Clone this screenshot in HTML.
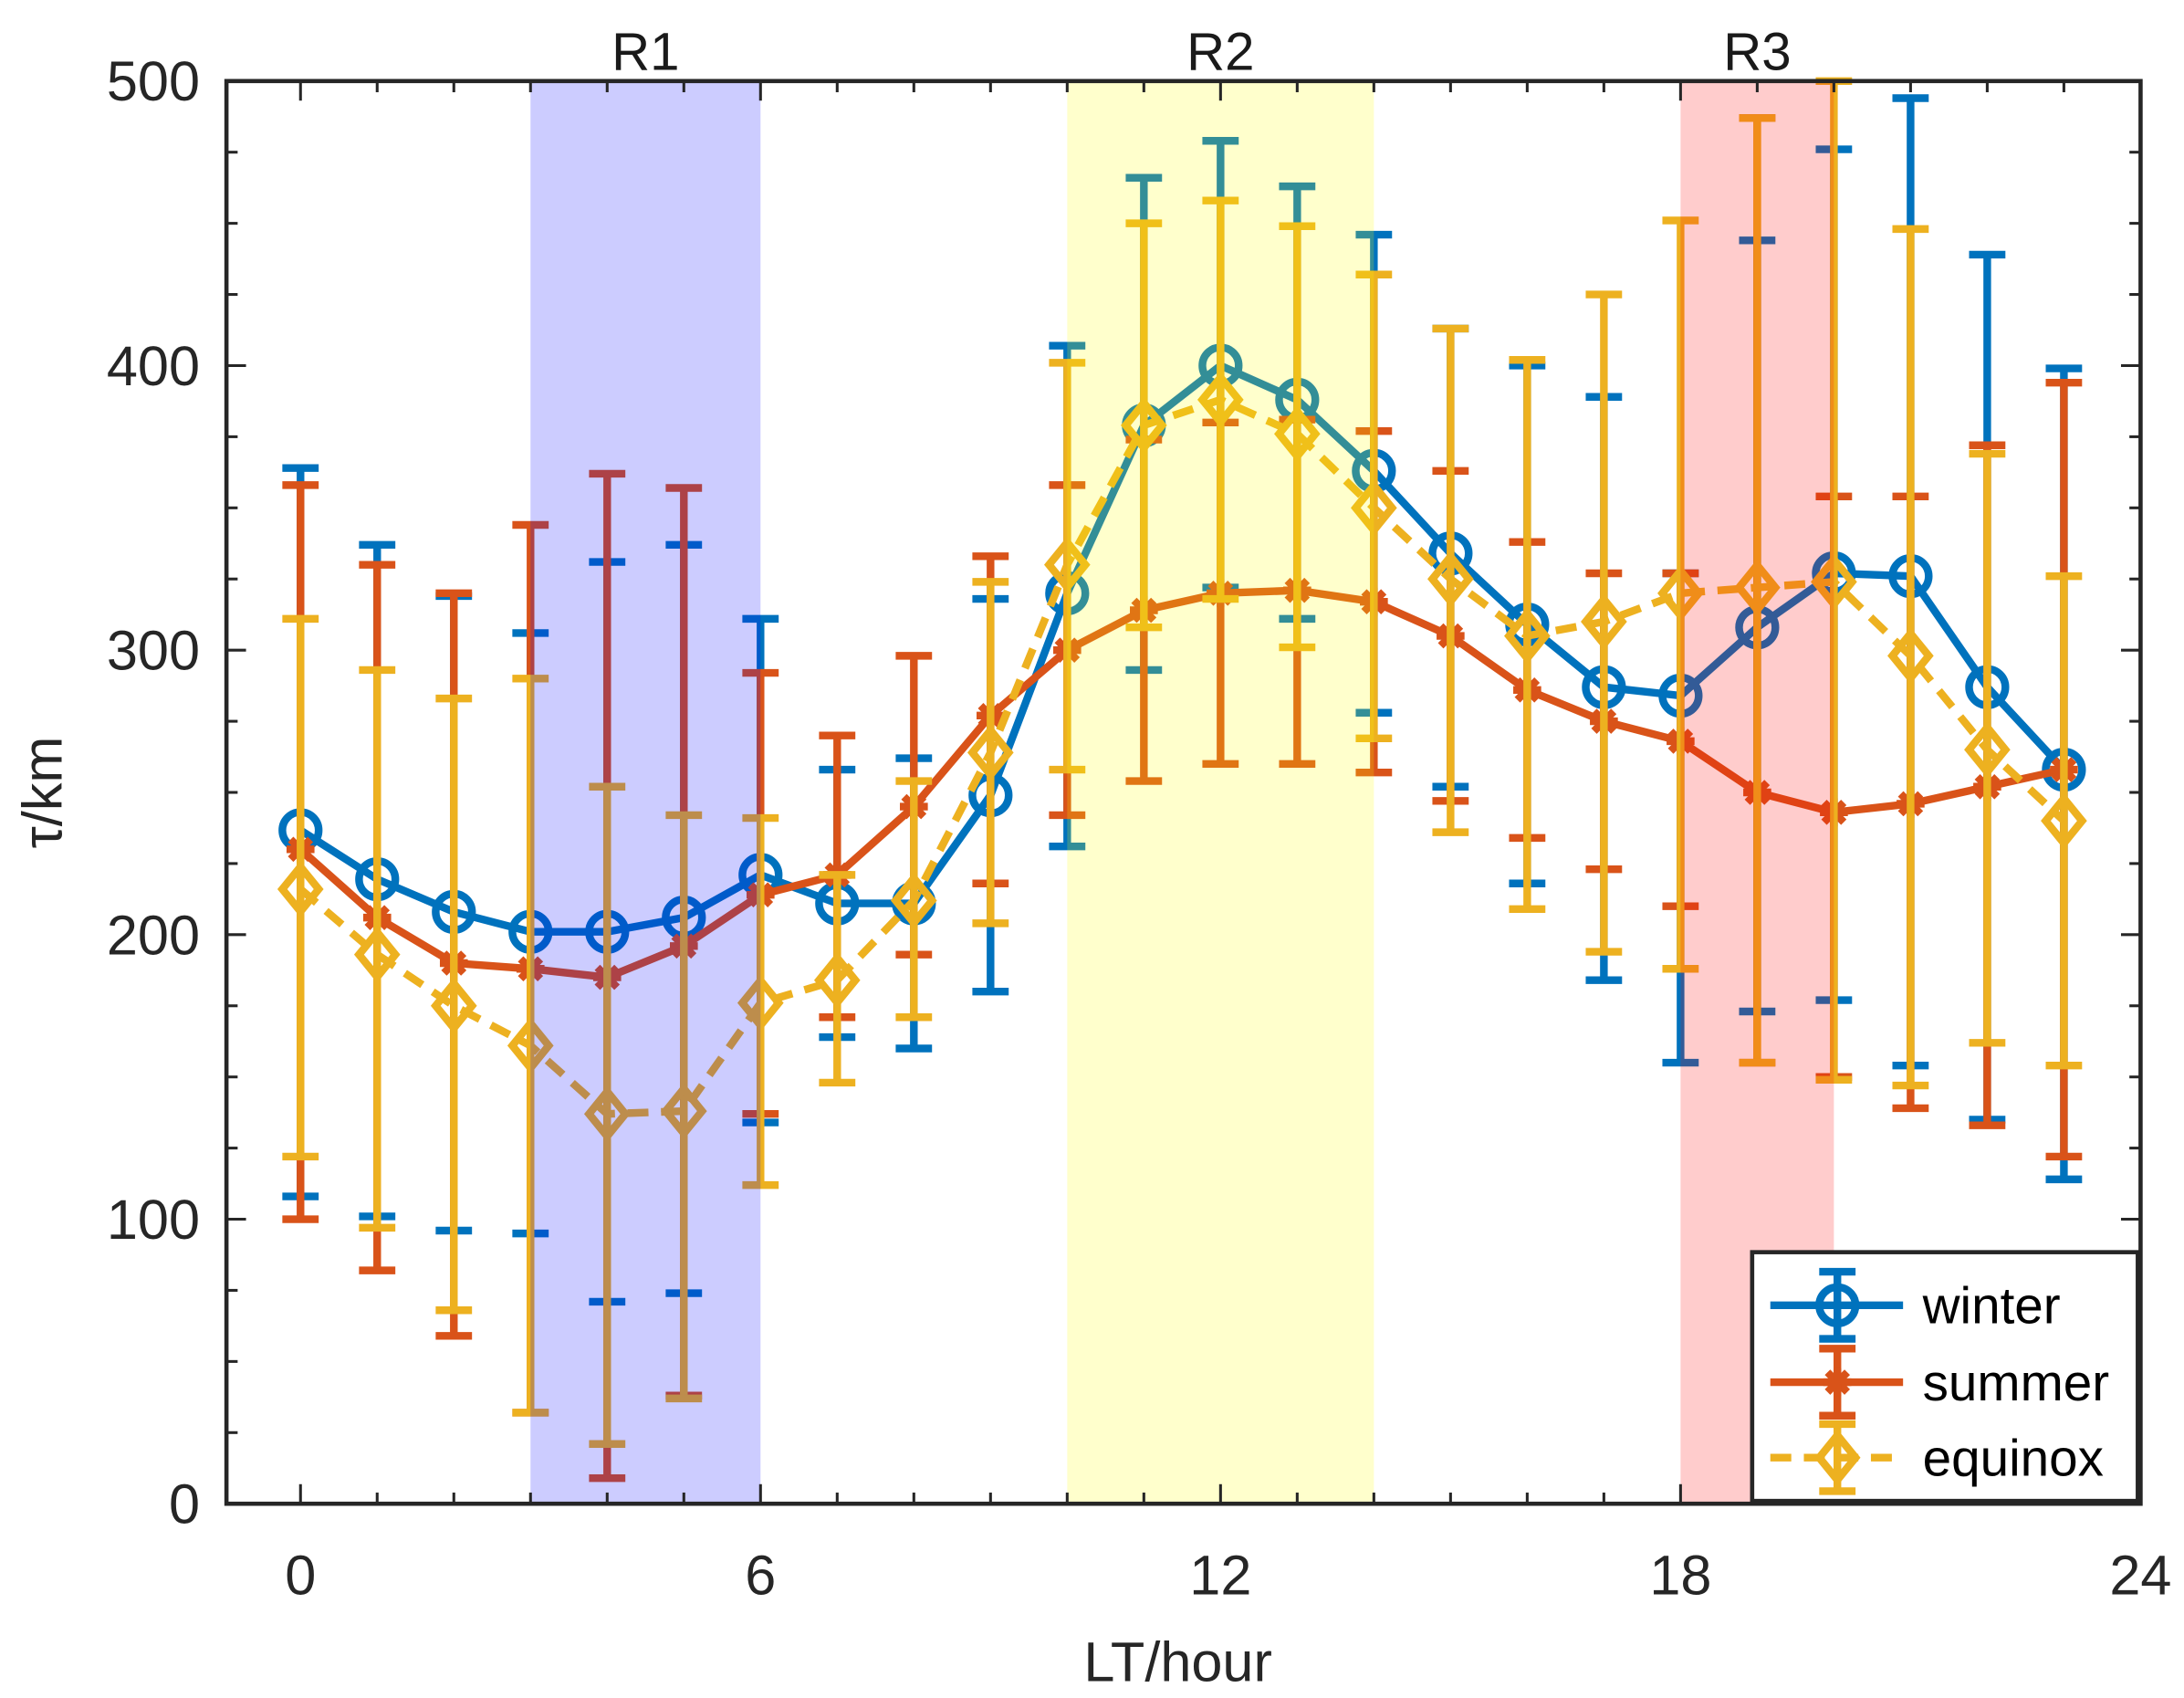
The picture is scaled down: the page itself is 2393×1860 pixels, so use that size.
<!DOCTYPE html>
<html><head><meta charset="utf-8"><style>html,body{margin:0;padding:0;background:#fff}svg{display:block}</style></head>
<body>
<svg id="s" width="2393" height="1860" viewBox="0 0 1563 1215" xmlns="http://www.w3.org/2000/svg" font-family="Liberation Sans, Arial, sans-serif"></svg>
<script>
(function(){
const X=h=>215+h*54.875, Y=v=>1076-v*2.036;
const W='#0072BD',S='#D95319',E='#EDB120',LW=5.5;
const win=[236.7,219.5,208,201,201,206,221,211,211,249,320,379,400,388,363,334,309,287,284,308,327,326,287,258];
const winT=[364,337,319,306,331,337,311,258,262,318,407,466,479,463,446,413,400,389,327,444,476,494,439,399];
const winB=[108,101,96,95,71,74,134,164,160,180,231,293,322,311,278,252,218,184,155,173,177,154,135,114];
const sum=[230,206,190,188,185,196,214,221,245,277,300,314,320,321,317,305,286,275,268,250,243,246,252,258];
const sumT=[358,330,320,344,362,357,292,270,298,333,358,374,380,381,377,363,338,327,327,487,354,354,372,394];
const sumB=[100,82,59,32,9,38,137,171,193,218,242,254,260,260,257,247,234,223,210,155,150,139,133,122];
const eq=[216,193,175,161,137,138,176,184,212,264,330,379,388,376,350,325,305,310,320,322,324,298,265,240];
const eqT=[311,293,283,290,252,242,241,221,254,324,401,450,458,449,432,413,402,425,451,487,500,448,369,326];
const eqB=[122,97,68,32,21,37,112,148,171,204,258,308,318,301,269,236,209,194,188,155,149,147,162,154];
let o='<rect x="162" y="58" width="1370" height="1018" fill="#fff"/>';
function bars(T,B,c){let r='';for(let i=0;i<24;i++){const x=X(i);r+=`<line x1="${x}" y1="${Y(T[i])}" x2="${x}" y2="${Y(B[i])}" stroke="${c}" stroke-width="${LW}"/><line x1="${x-13}" y1="${Y(T[i])}" x2="${x+13}" y2="${Y(T[i])}" stroke="${c}" stroke-width="${LW}"/><line x1="${x-13}" y1="${Y(B[i])}" x2="${x+13}" y2="${Y(B[i])}" stroke="${c}" stroke-width="${LW}"/>`;}return r;}
function line(v,c,d){return `<polyline fill="none" stroke="${c}" stroke-width="${LW}" ${d?'stroke-dasharray="15 9"':''} points="${v.map((a,i)=>X(i)+','+Y(a)).join(' ')}"/>`;}
function circ(x,y){return `<circle cx="${x}" cy="${y}" r="13" fill="none" stroke="${W}" stroke-width="${LW}"/>`}
function star(x,y){let r='';for(const a of [0,45,90,135]){const t=a*Math.PI/180,dx=10*Math.cos(t),dy=10*Math.sin(t);r+=`<line x1="${x-dx}" y1="${y-dy}" x2="${x+dx}" y2="${y+dy}" stroke="${S}" stroke-width="${LW}"/>`;}return r;}
function dia(x,y){return `<polygon points="${x},${y-16} ${x+13},${y} ${x},${y+16} ${x-13},${y}" fill="none" stroke="${E}" stroke-width="${LW}"/>`}
o+=bars(winT,winB,W)+line(win,W);for(let i=0;i<24;i++)o+=circ(X(i),Y(win[i]));
o+=bars(sumT,sumB,S)+line(sum,S);for(let i=0;i<24;i++)o+=star(X(i),Y(sum[i]));
o+=bars(eqT,eqB,E)+line(eq,E,1);for(let i=0;i<24;i++)o+=dia(X(i),Y(eq[i]));
o+=`<rect x="${X(3)}" y="58" width="${X(6)-X(3)}" height="1018" fill="#0000ff" fill-opacity="0.2"/>`;
o+=`<rect x="${X(10)}" y="58" width="${X(14)-X(10)}" height="1018" fill="#ffff00" fill-opacity="0.2"/>`;
o+=`<rect x="${X(18)}" y="58" width="${X(20)-X(18)}" height="1018" fill="#ff0000" fill-opacity="0.2"/>`;
o+='<g font-size="38" text-anchor="middle" fill="#1a1a1a"><text x="'+X(4.5)+'" y="50">R1</text><text x="'+X(12)+'" y="50">R2</text><text x="'+X(19)+'" y="50">R3</text></g>';
let tk='';
for(let h=0;h<=24;h++){const x=X(h);const L=h%6==0?14:8;tk+=`<line x1="${x}" y1="1076" x2="${x}" y2="${1076-L}"/><line x1="${x}" y1="58" x2="${x}" y2="${58+L}"/>`;}
for(let v=0;v<=500;v+=25){const y=Y(v);const L=v%100==0?14:8;tk+=`<line x1="162" y1="${y}" x2="${162+L}" y2="${y}"/><line x1="1532" y1="${y}" x2="${1532-L}" y2="${y}"/>`;}
o+=`<g stroke="#262626" stroke-width="2">${tk}</g>`;
o+='<rect x="162" y="58" width="1370" height="1018" fill="none" stroke="#262626" stroke-width="3"/>';
o+='<g font-size="40" fill="#262626" text-anchor="middle">';
for(const h of [0,6,12,18,24])o+=`<text x="${X(h)}" y="1141">${h}</text>`;
o+='</g><g font-size="40" fill="#262626" text-anchor="end">';
for(let v=0;v<=500;v+=100)o+=`<text x="143" y="${Y(v)+14}">${v}</text>`;
o+='</g>';
o+='<text x="843" y="1203" font-size="40" fill="#262626" text-anchor="middle">LT/hour</text>';
o+='<text transform="translate(44,567) rotate(-90)" font-size="40" fill="#262626" text-anchor="middle">τ/km</text>';
o+='<rect x="1254" y="896" width="276" height="178" fill="#fff" stroke="#262626" stroke-width="3"/>';
const ly=[934,989,1043],cols=[W,S,E],mk=[circ,star,dia],names=['winter','summer','equinox'];
for(let k=0;k<3;k++){const c=cols[k],y=ly[k];
o+=`<line x1="1267" y1="${y}" x2="1362" y2="${y}" stroke="${c}" stroke-width="${LW}" ${k==2?'stroke-dasharray="15 9"':''}/><line x1="1315" y1="${y-24}" x2="1315" y2="${y+24}" stroke="${c}" stroke-width="${LW}"/><line x1="1302" y1="${y-24}" x2="1328" y2="${y-24}" stroke="${c}" stroke-width="${LW}"/><line x1="1302" y1="${y+24}" x2="1328" y2="${y+24}" stroke="${c}" stroke-width="${LW}"/>`+mk[k](1315,y);
o+=`<text x="1376" y="${y+13}" font-size="37" fill="#000">${names[k]}</text>`;}
document.getElementById('s').innerHTML=o;
})();
</script>
</body></html>
